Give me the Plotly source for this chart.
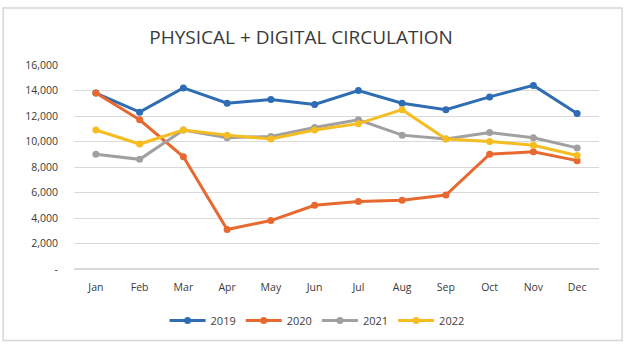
import plotly.graph_objects as go

months = ["Jan", "Feb", "Mar", "Apr", "May", "Jun", "Jul", "Aug", "Sep", "Oct", "Nov", "Dec"]
y2019 = [13800, 12300, 14200, 13000, 13300, 12900, 14000, 13000, 12500, 13500, 14400, 12200]
y2020 = [13800, 11700, 8800, 3100, 3800, 5000, 5300, 5400, 5800, 9000, 9200, 8500]
y2021 = [9000, 8600, 10900, 10300, 10400, 11100, 11700, 10500, 10200, 10700, 10300, 9500]
y2022 = [10900, 9800, 10900, 10500, 10200, 10900, 11400, 12500, 10200, 10000, 9700, 8900]
tick_vals = [0, 2000, 4000, 6000, 8000, 10000, 12000, 14000, 16000]
tick_text = ["-", "2,000", "4,000", "6,000", "8,000", "10,000", "12,000", "14,000", "16,000"]

series = [
    ("2019", y2019, "#2E6DB4"),
    ("2020", y2020, "#E8692F"),
    ("2021", y2021, "#A0A0A0"),
    ("2022", y2022, "#F5BD1F"),
]

fig = go.Figure()
for name, vals, color in series:
    fig.add_trace(go.Scatter(
        x=months, y=vals, name=name, mode="lines+markers",
        line=dict(color=color, width=3),
        marker=dict(color=color, size=7, symbol="circle"),
    ))

fig.update_layout(
    width=626, height=347,
    margin=dict(l=74, r=27, t=65, b=76),
    paper_bgcolor="white", plot_bgcolor="white",
    font=dict(family="Open Sans, Calibri, Arial", color="#404040"),
    title=dict(text="PHYSICAL + DIGITAL CIRCULATION", x=0.481, xanchor="center",
               y=0.893, yanchor="middle",
               font=dict(family="Open Sans", size=19, color="#3a3a3a")),
    showlegend=True,
    legend=dict(orientation="h", x=0.463, xanchor="center", y=-0.252, yanchor="middle",
                font=dict(size=11, color="#404040"), itemwidth=36,
                tracegroupgap=0),
    shapes=[dict(type="rect", xref="paper", yref="paper", x0=-0.135, x1=1.044,
                 y0=-0.35, y1=1.28, line=dict(color="#d6d6d6", width=1.5))],
)
fig.update_xaxes(type="category", range=[-0.5, 11.5], showgrid=False, showline=False,
                 ticks="", tickfont=dict(size=10.5, color="#3a3a3a", family="Open Sans"),
                 ticklabelstandoff=10)
fig.update_yaxes(range=[0, 16000], tickvals=tick_vals, ticktext=tick_text,
                 showgrid=True, gridcolor="#d9d9d9", gridwidth=1, zeroline=True,
                 zerolinecolor="#d9d9d9", showline=False,
                 tickfont=dict(size=10.5, color="#3a3a3a", family="Open Sans"),
                 ticklabelstandoff=15)

fig.write_html("out.html")
